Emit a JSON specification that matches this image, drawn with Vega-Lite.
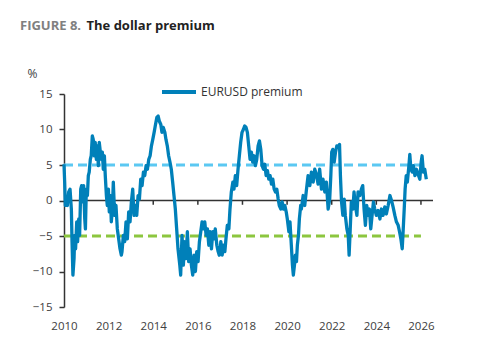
{
  "$schema": "https://vega.github.io/schema/vega-lite/v6.json",
  "width": 369,
  "height": 213,
  "autosize": {"type": "none"},
  "padding": {"left": 64, "top": 94, "right": 56, "bottom": 51},
  "background": "white",
  "config": {
    "font": "Open Sans",
    "view": {"stroke": null},
    "axis": {"labelOverlap": false}
  },
  "title": {
    "text": "FIGURE 8.",
    "anchor": "start",
    "frame": "group",
    "dx": -44,
    "dy": 44,
    "fontSize": 13,
    "fontWeight": "bold",
    "color": "#808080",
    "offset": 30
  },
  "encoding": {
    "x": {
      "field": "t",
      "type": "quantitative",
      "scale": {"domain": [2010, 2026.54], "nice": false, "zero": false},
      "axis": {
        "title": "The dollar premium",
        "titleX": 22,
        "titleY": -278,
        "titleAlign": "left",
        "titleAnchor": null,
        "titleBaseline": "alphabetic",
        "titleFontSize": 13,
        "titleFontWeight": "bold",
        "titleColor": "#222222",
        "values": [2010, 2012, 2014, 2016, 2018, 2020, 2022, 2024, 2026],
        "format": "d",
        "domain": false,
        "ticks": false,
        "grid": false,
        "labelPadding": 13,
        "labelFlush": false,
        "labelOverlap": false,
        "labelFontSize": 11.5,
        "labelColor": "#404040"
      }
    },
    "y": {
      "field": "v",
      "type": "quantitative",
      "scale": {"domain": [-15, 15], "nice": false},
      "axis": {
        "title": "%",
        "titleAngle": 0,
        "titleAlign": "center",
        "titleBaseline": "alphabetic",
        "titleX": -32,
        "titleY": -17,
        "titleFontSize": 12,
        "titleFontWeight": "normal",
        "titleColor": "#404040",
        "values": [-15, -10, -5, 0, 5, 10, 15],
        "format": "d",
        "labelOverlap": false,
        "grid": false,
        "domainColor": "#333333",
        "domainWidth": 1.5,
        "tickColor": "#333333",
        "tickWidth": 1.5,
        "tickSize": 5,
        "labelPadding": 7,
        "labelFontSize": 11.5,
        "labelColor": "#404040"
      }
    }
  },
  "layer": [
    {
      "data": {"values": [{"v": 0, "t": 2010, "end": 2026.54}]},
      "mark": {"type": "rule", "color": "#333333", "strokeWidth": 1.5},
      "encoding": {"x2": {"field": "end"}}
    },
    {
      "data": {"values": [{"t": 2012, "v": 0, "low": -0.6}, {"t": 2014, "v": 0, "low": -0.6}, {"t": 2016, "v": 0, "low": -0.6}, {"t": 2018, "v": 0, "low": -0.6}, {"t": 2020, "v": 0, "low": -0.6}, {"t": 2022, "v": 0, "low": -0.6}, {"t": 2024, "v": 0, "low": -0.6}, {"t": 2026, "v": 0, "low": -0.6}]},
      "mark": {"type": "rule", "color": "#333333", "strokeWidth": 1.5},
      "encoding": {"y2": {"field": "low"}}
    },
    {
      "data": {"values": [{"v": 5, "t": 2010, "end": 2026}]},
      "mark": {"type": "rule", "color": "#5bc8f2", "strokeWidth": 3, "strokeDash": [9, 5]},
      "encoding": {"x2": {"field": "end"}}
    },
    {
      "data": {"values": [{"v": -5, "t": 2010, "end": 2026}]},
      "mark": {"type": "rule", "color": "#8cc63f", "strokeWidth": 3, "strokeDash": [9, 5]},
      "encoding": {"x2": {"field": "end"}}
    },
    {
      "data": {"values": [
        {"t":2010.00,"v":5.1},{"t":2010.03,"v":2.6},{"t":2010.06,"v":-0.7},{"t":2010.10,"v":0.2},{"t":2010.15,"v":-0.7},
        {"t":2010.21,"v":1.2},{"t":2010.27,"v":1.6},{"t":2010.33,"v":-1.2},{"t":2010.36,"v":-5.8},{"t":2010.40,"v":-10.5},
        {"t":2010.45,"v":-8.2},{"t":2010.48,"v":-4.9},{"t":2010.52,"v":-6.8},{"t":2010.57,"v":-3},{"t":2010.61,"v":-5.8},
        {"t":2010.66,"v":-2.6},{"t":2010.70,"v":-4.9},{"t":2010.75,"v":1.6},{"t":2010.79,"v":2.1},{"t":2010.84,"v":-0.2},
        {"t":2010.88,"v":2.1},{"t":2010.93,"v":-2.6},{"t":2010.96,"v":-4},{"t":2011.00,"v":1.6},{"t":2011.05,"v":0.7},
        {"t":2011.09,"v":3.5},{"t":2011.13,"v":4},{"t":2011.18,"v":5.8},{"t":2011.22,"v":6.3},{"t":2011.27,"v":9.1},
        {"t":2011.31,"v":8.6},{"t":2011.36,"v":6.3},{"t":2011.40,"v":8.2},{"t":2011.45,"v":5.8},{"t":2011.49,"v":7.7},
        {"t":2011.54,"v":4.9},{"t":2011.58,"v":8.2},{"t":2011.63,"v":6.8},{"t":2011.67,"v":5.8},{"t":2011.72,"v":6.8},
        {"t":2011.76,"v":4.4},{"t":2011.81,"v":6.3},{"t":2011.85,"v":3.5},{"t":2011.90,"v":0.7},{"t":2011.94,"v":-0.7},
        {"t":2011.99,"v":1.6},{"t":2012.03,"v":-1.6},{"t":2012.08,"v":0.7},{"t":2012.12,"v":-3},{"t":2012.17,"v":-1.2},
        {"t":2012.21,"v":2.6},{"t":2012.27,"v":-2.1},{"t":2012.33,"v":-0.7},{"t":2012.39,"v":-4},{"t":2012.45,"v":-5.4},
        {"t":2012.51,"v":-6.8},{"t":2012.57,"v":-7.7},{"t":2012.60,"v":-7.2},{"t":2012.66,"v":-4.9},{"t":2012.72,"v":-5.8},
        {"t":2012.78,"v":-3},{"t":2012.84,"v":-5.4},{"t":2012.90,"v":-1.6},{"t":2012.96,"v":-3},{"t":2013.02,"v":-0.2},
        {"t":2013.08,"v":1.6},{"t":2013.14,"v":-2.1},{"t":2013.20,"v":-0.7},{"t":2013.26,"v":-2.1},{"t":2013.32,"v":0.7},
        {"t":2013.38,"v":0.2},{"t":2013.44,"v":3},{"t":2013.50,"v":2.1},{"t":2013.56,"v":4},{"t":2013.62,"v":3.5},
        {"t":2013.68,"v":4.9},{"t":2013.74,"v":4.4},{"t":2013.80,"v":5.8},{"t":2013.86,"v":6.3},{"t":2013.92,"v":7.7},
        {"t":2013.98,"v":8.6},{"t":2014.04,"v":9.6},{"t":2014.09,"v":10.5},{"t":2014.16,"v":11.7},{"t":2014.22,"v":11.9},
        {"t":2014.27,"v":11.2},{"t":2014.34,"v":10.7},{"t":2014.39,"v":9.6},{"t":2014.45,"v":10.3},{"t":2014.52,"v":9.6},
        {"t":2014.57,"v":8.6},{"t":2014.63,"v":7.7},{"t":2014.69,"v":6.3},{"t":2014.75,"v":5.4},{"t":2014.81,"v":4.4},
        {"t":2014.87,"v":2.6},{"t":2014.93,"v":0.7},{"t":2014.99,"v":-1.2},{"t":2015.05,"v":-4},{"t":2015.11,"v":-6.8},
        {"t":2015.19,"v":-9.1},{"t":2015.23,"v":-10.5},{"t":2015.29,"v":-4.9},{"t":2015.35,"v":-9.1},{"t":2015.41,"v":-5.8},
        {"t":2015.47,"v":-8.2},{"t":2015.53,"v":-4.4},{"t":2015.59,"v":-8.6},{"t":2015.65,"v":-6.8},{"t":2015.71,"v":-9.1},
        {"t":2015.77,"v":-10.5},{"t":2015.83,"v":-7.7},{"t":2015.89,"v":-10},{"t":2015.95,"v":-7.2},{"t":2016.01,"v":-8.6},
        {"t":2016.07,"v":-5.8},{"t":2016.13,"v":-4.4},{"t":2016.19,"v":-3},{"t":2016.25,"v":-4},{"t":2016.31,"v":-3},
        {"t":2016.37,"v":-4.9},{"t":2016.43,"v":-4},{"t":2016.49,"v":-6.3},{"t":2016.55,"v":-4.4},{"t":2016.61,"v":-6.8},
        {"t":2016.67,"v":-4.4},{"t":2016.73,"v":-5.4},{"t":2016.78,"v":-4},{"t":2016.85,"v":-6.3},{"t":2016.91,"v":-7.2},
        {"t":2016.96,"v":-7.7},{"t":2017.03,"v":-5.8},{"t":2017.09,"v":-7.7},{"t":2017.14,"v":-6.3},{"t":2017.21,"v":-7.2},
        {"t":2017.26,"v":-5.4},{"t":2017.32,"v":-3.5},{"t":2017.39,"v":-4},{"t":2017.44,"v":-1.2},{"t":2017.50,"v":1.2},
        {"t":2017.57,"v":2.6},{"t":2017.62,"v":1.6},{"t":2017.68,"v":3.5},{"t":2017.74,"v":2.1},{"t":2017.80,"v":4.4},
        {"t":2017.86,"v":6.3},{"t":2017.92,"v":8.2},{"t":2017.98,"v":9.6},{"t":2018.04,"v":10},{"t":2018.10,"v":10.5},
        {"t":2018.16,"v":10.3},{"t":2018.22,"v":9.6},{"t":2018.28,"v":7.7},{"t":2018.34,"v":5.8},{"t":2018.40,"v":6.8},
        {"t":2018.46,"v":5.4},{"t":2018.52,"v":6.3},{"t":2018.58,"v":4.9},{"t":2018.64,"v":5.8},{"t":2018.70,"v":7.7},
        {"t":2018.76,"v":8.4},{"t":2018.82,"v":7.2},{"t":2018.88,"v":4.9},{"t":2018.94,"v":4.4},{"t":2019.00,"v":5.1},
        {"t":2019.06,"v":3.5},{"t":2019.12,"v":4.2},{"t":2019.18,"v":3},{"t":2019.24,"v":3.5},{"t":2019.30,"v":2.3},
        {"t":2019.36,"v":3},{"t":2019.42,"v":1.6},{"t":2019.48,"v":1.2},{"t":2019.54,"v":1.6},{"t":2019.60,"v":0.2},
        {"t":2019.65,"v":-0.7},{"t":2019.72,"v":-1.2},{"t":2019.78,"v":-0.2},{"t":2019.83,"v":-1.2},{"t":2019.90,"v":-0.7},
        {"t":2019.96,"v":-1.6},{"t":2020.01,"v":-2.6},{"t":2020.08,"v":-4.4},{"t":2020.13,"v":-3},{"t":2020.19,"v":-6.3},
        {"t":2020.24,"v":-9.1},{"t":2020.28,"v":-10.5},{"t":2020.33,"v":-9.1},{"t":2020.37,"v":-7.7},{"t":2020.42,"v":-8.6},
        {"t":2020.46,"v":-6.3},{"t":2020.51,"v":-4.9},{"t":2020.55,"v":-2.6},{"t":2020.61,"v":-0.7},{"t":2020.64,"v":-1.2},
        {"t":2020.72,"v":0.7},{"t":2020.79,"v":-0.7},{"t":2020.87,"v":1.6},{"t":2020.94,"v":3.5},{"t":2021.02,"v":2.1},
        {"t":2021.09,"v":4},{"t":2021.17,"v":2.6},{"t":2021.24,"v":4.4},{"t":2021.31,"v":3.7},{"t":2021.39,"v":2.3},
        {"t":2021.46,"v":4.4},{"t":2021.54,"v":1.6},{"t":2021.61,"v":3},{"t":2021.69,"v":1.2},{"t":2021.76,"v":2.6},
        {"t":2021.84,"v":-1.2},{"t":2021.91,"v":0.2},{"t":2021.96,"v":3.5},{"t":2022.00,"v":6.8},{"t":2022.05,"v":7.2},
        {"t":2022.11,"v":5.4},{"t":2022.17,"v":6.8},{"t":2022.23,"v":7.7},{"t":2022.29,"v":7.5},{"t":2022.35,"v":7.9},
        {"t":2022.39,"v":3.5},{"t":2022.44,"v":-0.2},{"t":2022.50,"v":-2.1},{"t":2022.56,"v":0.2},{"t":2022.61,"v":-2.1},
        {"t":2022.68,"v":-4},{"t":2022.74,"v":-4.9},{"t":2022.78,"v":-7.7},{"t":2022.83,"v":-4},{"t":2022.88,"v":-0.2},
        {"t":2022.95,"v":-1.2},{"t":2023.00,"v":1.2},{"t":2023.06,"v":-0.7},{"t":2023.13,"v":-2.1},{"t":2023.18,"v":1.2},
        {"t":2023.26,"v":0.7},{"t":2023.33,"v":1.6},{"t":2023.39,"v":2.1},{"t":2023.45,"v":-1.2},{"t":2023.51,"v":-3.5},
        {"t":2023.57,"v":-0.7},{"t":2023.63,"v":-2.1},{"t":2023.69,"v":-1.2},{"t":2023.75,"v":-4},{"t":2023.81,"v":-2.1},
        {"t":2023.87,"v":-0.2},{"t":2023.93,"v":-1.2},{"t":2024.00,"v":-2.1},{"t":2024.08,"v":-1.4},{"t":2024.16,"v":-2.6},
        {"t":2024.23,"v":-1.2},{"t":2024.30,"v":-2.1},{"t":2024.38,"v":-0.9},{"t":2024.45,"v":-1.9},{"t":2024.53,"v":-0.7},
        {"t":2024.61,"v":0.7},{"t":2024.68,"v":0},{"t":2024.75,"v":-0.9},{"t":2024.83,"v":-2.1},{"t":2024.90,"v":-3},
        {"t":2024.98,"v":-3.5},{"t":2025.04,"v":-4.4},{"t":2025.10,"v":-5.4},{"t":2025.16,"v":-6.8},{"t":2025.20,"v":-4.4},
        {"t":2025.25,"v":-1.2},{"t":2025.29,"v":1.6},{"t":2025.34,"v":3.5},{"t":2025.39,"v":2.6},{"t":2025.46,"v":4.9},
        {"t":2025.50,"v":6.5},{"t":2025.55,"v":4.4},{"t":2025.61,"v":4},{"t":2025.66,"v":4.9},{"t":2025.73,"v":3.5},
        {"t":2025.80,"v":4.4},{"t":2025.87,"v":3.7},{"t":2025.95,"v":3},{"t":2026.01,"v":5.4},{"t":2026.05,"v":6.3},
        {"t":2026.11,"v":4},{"t":2026.17,"v":4.4},{"t":2026.24,"v":3}
      ]},
      "mark": {"type": "line", "strokeWidth": 3.3, "strokeJoin": "round"},
      "encoding": {
        "color": {
          "datum": "EURUSD premium",
          "scale": {"range": ["#0080b9"]},
          "legend": {
            "title": null,
            "orient": "none",
            "legendX": 96,
            "legendY": -21,
            "symbolType": "stroke",
            "symbolSize": 1156,
            "symbolStrokeWidth": 4,
            "labelFontSize": 12,
            "labelColor": "#333333",
            "labelOffset": 3
          }
        }
      }
    }
  ]
}
